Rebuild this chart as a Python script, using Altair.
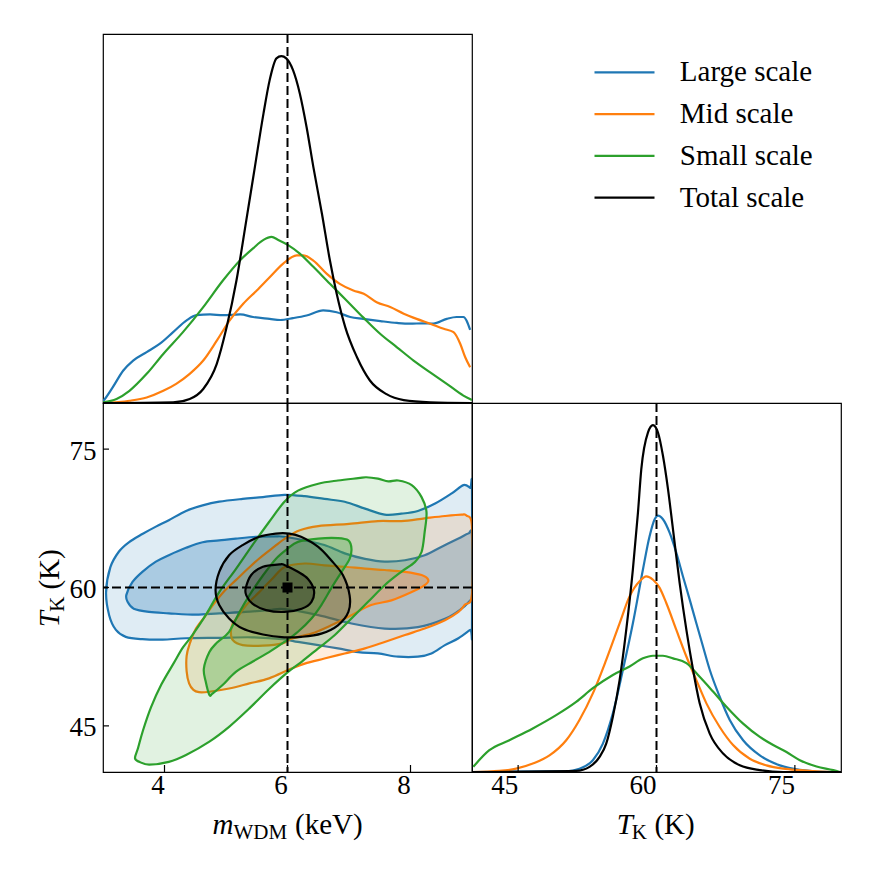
import altair as alt
import pandas as pd

SERIES = ["Large scale", "Mid scale", "Small scale", "Total scale"]
COLORS = ["#1f77b4", "#ff7f0e", "#2ca02c", "#000000"]
TRUTH_M = 6.0
TRUTH_T = 60.0
M_TICKS = [4, 6, 8]
T_TICKS = [45, 60, 75]
M_DOMAIN = [3.0, 9.0]
T_DOMAIN = [40.0, 80.0]

# ---- 1D marginal of m_WDM (keV), normalised height ----
LARGE_M_X = [3.0, 3.03, 3.16, 3.33, 3.49, 3.71, 3.92, 4.14, 4.36, 4.52, 4.74, 4.95, 5.23, 5.44, 5.71, 5.88, 6.09, 6.31, 6.58, 6.80, 7.02, 7.23, 7.51, 7.78, 7.99, 8.21, 8.37, 8.59, 8.75, 8.86, 8.97]
LARGE_M_Y = [0.005, 0.011, 0.043, 0.088, 0.115, 0.138, 0.160, 0.192, 0.224, 0.238, 0.240, 0.238, 0.240, 0.233, 0.228, 0.225, 0.230, 0.237, 0.251, 0.246, 0.233, 0.228, 0.222, 0.217, 0.215, 0.216, 0.215, 0.228, 0.233, 0.233, 0.198]
MID_M_X = [3.0, 3.43, 3.71, 3.98, 4.19, 4.41, 4.63, 4.85, 5.06, 5.28, 5.50, 5.71, 5.93, 6.15, 6.26, 6.42, 6.64, 6.85, 7.07, 7.24, 7.45, 7.67, 7.89, 8.10, 8.32, 8.54, 8.70, 8.81, 8.89, 8.97]
MID_M_Y = [0.0, 0.006, 0.015, 0.033, 0.052, 0.079, 0.115, 0.169, 0.224, 0.269, 0.305, 0.341, 0.378, 0.400, 0.400, 0.386, 0.350, 0.323, 0.305, 0.296, 0.273, 0.260, 0.242, 0.228, 0.215, 0.201, 0.192, 0.160, 0.124, 0.097]
SMALL_M_X = [3.0, 3.22, 3.43, 3.71, 3.98, 4.30, 4.63, 4.95, 5.23, 5.44, 5.61, 5.74, 5.85, 6.01, 6.20, 6.42, 6.69, 6.96, 7.23, 7.51, 7.78, 8.05, 8.32, 8.59, 8.86, 9.0]
SMALL_M_Y = [0.002, 0.011, 0.033, 0.079, 0.133, 0.192, 0.260, 0.332, 0.387, 0.419, 0.442, 0.450, 0.442, 0.428, 0.405, 0.369, 0.323, 0.278, 0.232, 0.187, 0.151, 0.115, 0.083, 0.052, 0.020, 0.008]
TOTAL_M_X = [3.0, 4.14, 4.41, 4.63, 4.85, 5.01, 5.17, 5.33, 5.47, 5.61, 5.71, 5.82, 5.90, 5.98, 6.09, 6.20, 6.31, 6.42, 6.56, 6.69, 6.80, 6.94, 7.13, 7.34, 7.61, 7.89, 8.32, 9.0]
TOTAL_M_Y = [0.0, 0.002, 0.011, 0.038, 0.106, 0.205, 0.332, 0.495, 0.640, 0.785, 0.875, 0.934, 0.940, 0.934, 0.902, 0.839, 0.748, 0.640, 0.513, 0.386, 0.296, 0.205, 0.124, 0.061, 0.024, 0.008, 0.002, 0.0]

# ---- 1D marginal of T_K (K), normalised height ----
LARGE_T_X = [40.0, 50.21, 51.65, 53.1, 54.19, 55.27, 56.36, 57.44, 58.53, 59.25, 59.8, 60.16, 60.7, 61.43, 62.15, 62.87, 63.6, 64.32, 65.04, 65.77, 66.85, 67.94, 69.39, 71.2, 73.37, 75.54, 79.16, 80.0]
LARGE_T_Y = [0.0, 0.002, 0.009, 0.032, 0.077, 0.159, 0.277, 0.403, 0.549, 0.639, 0.685, 0.695, 0.685, 0.648, 0.594, 0.530, 0.467, 0.403, 0.340, 0.277, 0.204, 0.141, 0.086, 0.045, 0.018, 0.006, 0.0, 0.0]
MID_T_X = [40.0, 42.97, 44.78, 46.59, 48.4, 50.21, 51.65, 53.1, 54.55, 56.0, 57.08, 58.17, 58.89, 59.62, 60.34, 61.06, 62.15, 63.24, 64.32, 65.41, 66.85, 68.3, 70.11, 71.92, 73.73, 75.54, 79.16, 80.0]
MID_T_Y = [0.0, 0.003, 0.009, 0.023, 0.045, 0.086, 0.141, 0.213, 0.304, 0.403, 0.476, 0.517, 0.530, 0.521, 0.499, 0.458, 0.385, 0.313, 0.249, 0.186, 0.122, 0.073, 0.036, 0.018, 0.009, 0.005, 0.0, 0.0]
SMALL_T_X = [40.14, 41.88, 44.05, 46.59, 49.12, 51.29, 53.1, 55.27, 57.08, 58.53, 59.62, 60.7, 61.79, 63.24, 64.68, 66.13, 67.58, 69.39, 71.2, 72.65, 74.09, 75.54, 77.35, 79.16, 79.88]
SMALL_T_Y = [0.014, 0.059, 0.086, 0.118, 0.154, 0.190, 0.227, 0.263, 0.286, 0.308, 0.315, 0.315, 0.308, 0.295, 0.258, 0.218, 0.177, 0.131, 0.095, 0.073, 0.054, 0.032, 0.015, 0.005, 0.0]
TOTAL_T_X = [40.0, 51.29, 52.74, 53.83, 54.55, 55.27, 56.0, 56.72, 57.44, 57.99, 58.35, 59.07, 59.62, 60.16, 60.70, 61.25, 61.79, 62.51, 63.24, 63.96, 64.68, 65.77, 67.22, 69.03, 71.2, 73.73, 80.0]
TOTAL_T_Y = [0.0, 0.003, 0.014, 0.041, 0.077, 0.150, 0.249, 0.385, 0.549, 0.703, 0.820, 0.920, 0.940, 0.920, 0.857, 0.766, 0.657, 0.512, 0.385, 0.277, 0.186, 0.104, 0.050, 0.018, 0.005, 0.0, 0.0]

# ---- 2D credible contours (m_WDM, T_K): 95% (outer) and 68% (inner) ----
LARGE_95_X = [3.05, 3.12, 3.26, 3.42, 3.64, 3.86, 4.07, 4.35, 4.62, 4.89, 5.27, 5.60, 5.95, 6.28, 6.60, 6.93, 7.26, 7.58, 7.85, 8.12, 8.40, 8.67, 8.86, 8.97, 9.00, 9.00, 8.97, 8.78, 8.56, 8.34, 8.12, 7.80, 7.47, 7.15, 6.82, 6.50, 6.17, 5.92, 5.43, 4.89, 4.35, 3.97, 3.64, 3.37, 3.21, 3.10]
LARGE_95_Y = [59.5, 62.2, 63.9, 64.9, 65.8, 66.6, 67.3, 68.3, 68.9, 69.3, 69.6, 69.8, 70.05, 69.9, 69.6, 69.3, 68.55, 67.9, 68.0, 68.3, 69.1, 70.2, 71.1, 70.8, 70.6, 55.5, 55.4, 54.5, 53.75, 52.85, 52.5, 52.5, 52.85, 53.0, 53.4, 53.75, 54.1, 54.4, 54.6, 54.55, 54.5, 54.35, 54.4, 54.65, 55.4, 57.0]
LARGE_68_X = [3.38, 3.48, 3.64, 3.86, 4.07, 4.35, 4.62, 4.89, 5.16, 5.49, 5.81, 5.95, 6.28, 6.60, 6.93, 7.26, 7.58, 7.91, 8.23, 8.50, 8.78, 8.94, 9.00, 9.00, 8.97, 8.83, 8.56, 8.12, 7.58, 7.04, 6.50, 5.95, 5.70, 5.32, 4.89, 4.51, 4.07, 3.75, 3.50, 3.40]
LARGE_68_Y = [59.2, 60.6, 61.7, 62.8, 63.5, 64.3, 64.9, 65.1, 65.3, 65.5, 65.55, 65.5, 65.1, 64.6, 63.7, 63.1, 62.8, 62.95, 63.5, 64.4, 65.3, 65.85, 65.6, 58.9, 58.6, 57.7, 56.6, 55.7, 55.55, 56.1, 57.0, 57.65, 57.55, 57.35, 57.2, 57.05, 57.2, 57.35, 57.7, 58.45]
MID_95_X = [4.56, 4.47, 4.40, 4.36, 4.36, 4.41, 4.50, 4.65, 4.80, 4.97, 5.16, 5.35, 5.55, 5.78, 5.98, 6.20, 6.50, 7.00, 7.47, 7.85, 8.23, 8.56, 8.83, 8.91, 9.00, 9.00, 8.88, 8.78, 8.56, 8.23, 7.91, 7.58, 7.26, 6.93, 6.60, 6.28, 6.03, 5.70, 5.38, 5.05, 4.73]
MID_95_Y = [48.65, 48.9, 49.6, 50.9, 52.6, 53.9, 55.4, 56.8, 58.2, 59.6, 60.8, 62.0, 63.2, 64.4, 65.4, 66.2, 66.65, 66.9, 67.2, 67.2, 67.5, 67.75, 67.9, 67.8, 66.6, 59.3, 58.1, 57.35, 56.45, 55.55, 54.85, 54.1, 53.4, 52.85, 52.3, 51.75, 51.1, 50.15, 49.6, 49.05, 48.7]
MID_68_X = [5.08, 5.11, 5.20, 5.33, 5.54, 5.76, 5.95, 6.28, 6.60, 6.93, 7.26, 7.58, 7.91, 8.18, 8.29, 8.23, 8.02, 7.69, 7.36, 7.04, 6.71, 6.39, 6.06, 5.92, 5.60, 5.27, 5.11]
MID_68_Y = [55.2, 56.1, 56.9, 58.1, 59.5, 61.0, 62.2, 62.6, 62.4, 62.25, 62.05, 61.9, 61.7, 61.35, 60.8, 60.25, 59.5, 58.6, 58.1, 57.0, 55.9, 55.0, 54.45, 53.95, 53.7, 53.75, 54.3]
SMALL_95_X = [3.52, 3.57, 3.65, 3.78, 3.95, 4.15, 4.30, 4.45, 4.67, 4.89, 5.16, 5.43, 5.70, 5.95, 6.17, 6.50, 6.82, 7.15, 7.28, 7.47, 7.64, 7.80, 8.02, 8.18, 8.26, 8.23, 8.18, 8.07, 7.85, 7.58, 7.31, 7.04, 6.77, 6.50, 6.23, 6.01, 5.70, 5.38, 5.05, 4.73, 4.35, 4.07, 3.75, 3.59]
SMALL_95_Y = [41.5, 42.6, 44.5, 47.0, 49.5, 51.8, 53.5, 54.8, 57.0, 59.5, 62.0, 64.6, 67.1, 69.3, 70.5, 71.25, 71.6, 71.85, 71.95, 71.8, 71.5, 71.6, 71.1, 69.8, 68.2, 66.0, 63.85, 62.75, 61.7, 60.25, 58.45, 56.65, 54.85, 53.4, 51.95, 50.85, 49.0, 46.9, 44.9, 43.3, 41.85, 41.1, 40.8, 41.1]
SMALL_68_X = [4.73, 4.67, 4.64, 4.73, 4.85, 5.05, 5.22, 5.38, 5.60, 5.81, 6.00, 6.17, 6.50, 6.82, 6.99, 7.04, 7.01, 6.88, 6.71, 6.55, 6.39, 6.17, 5.95, 5.70, 5.43, 5.16, 4.94, 4.78]
SMALL_68_Y = [48.35, 49.8, 51.2, 53.0, 54.0, 55.2, 57.35, 59.15, 61.3, 63.1, 64.2, 64.95, 65.3, 65.35, 65.1, 64.2, 63.1, 61.7, 59.9, 58.1, 56.65, 55.2, 54.1, 53.0, 51.95, 50.85, 49.4, 48.5]
TOTAL_95_X = [4.83, 4.89, 5.05, 5.27, 5.54, 5.81, 6.03, 6.22, 6.50, 6.71, 6.90, 7.01, 6.99, 6.82, 6.55, 6.22, 5.95, 5.60, 5.27, 5.05, 4.89]
TOTAL_95_Y = [59.7, 61.7, 63.5, 64.6, 65.5, 65.85, 65.85, 65.5, 64.4, 62.95, 61.35, 59.15, 57.35, 55.9, 55.0, 54.65, 54.6, 54.9, 55.55, 56.65, 58.1]
TOTAL_68_X = [5.32, 5.41, 5.60, 5.87, 5.95, 6.17, 6.33, 6.43, 6.39, 6.23, 5.95, 5.65, 5.43, 5.33]
TOTAL_68_Y = [59.9, 61.35, 62.25, 62.5, 62.45, 61.7, 60.95, 59.7, 58.45, 57.7, 57.35, 57.55, 58.25, 59.15]

# ---------------- styling ----------------
W = 369
H = 369
FONT = "Liberation Serif"
ALPHA_OUTER = 0.14
ALPHA_INNER = 0.28
LW = 2.2

MS = alt.Scale(domain=M_DOMAIN, nice=False, zero=False)
TS = alt.Scale(domain=T_DOMAIN, nice=False, zero=False)
PS = alt.Scale(domain=[0, 1], nice=False, zero=False)
CS = alt.Scale(domain=SERIES, range=COLORS)
DASH = [9, 4]

AX_M = alt.Axis(values=M_TICKS, format="d", title=None, labelOffset=-7, labelPadding=0,
                labelFont=FONT, labelFontSize=27, labelColor="black",
                ticks=False, domain=False, grid=False)
AX_T = alt.Axis(values=T_TICKS, format="d", title=None, labelPadding=7, labelOffset=2,
                labelFont=FONT, labelFontSize=27, labelColor="black",
                ticks=False, domain=False, grid=False)
AX_TR = alt.Axis(values=T_TICKS, format="d", title=None, labelOffset=-14, labelPadding=0,
                 labelFont=FONT, labelFontSize=27, labelColor="black",
                 ticks=False, domain=False, grid=False)


def marg_df(xs_list, ys_list):
    rows = []
    for s, xs, ys in zip(SERIES, xs_list, ys_list):
        for i, (x, y) in enumerate(zip(xs, ys)):
            rows.append({"series": s, "v": x, "p": y, "i": i})
    return pd.DataFrame(rows)


def poly_df(polys):
    rows = []
    for k, (xs, ys, a) in enumerate(polys):
        for i, (x, y) in enumerate(zip(xs, ys)):
            rows.append({"poly": k, "i": i, "x": x, "y": y, "a": a})
    return pd.DataFrame(rows)


def label(text, x, y, size, italic=False, angle=0):
    return alt.Chart(pd.DataFrame({"t": [text]})).mark_text(
        align="left", baseline="alphabetic", font=FONT, fontSize=size,
        fontStyle="italic" if italic else "normal", angle=angle, color="black"
    ).encode(x=alt.value(x), y=alt.value(y), text="t:N")


def vrule(value, scale, axis):
    return alt.Chart(pd.DataFrame({"v": [value]})).mark_rule(
        color="black", strokeWidth=2, strokeDash=DASH
    ).encode(x=alt.X("v:Q", scale=scale, axis=axis))


# ---------------- top-left: m_WDM marginal ----------------
m_df = marg_df([LARGE_M_X, MID_M_X, SMALL_M_X, TOTAL_M_X],
               [LARGE_M_Y, MID_M_Y, SMALL_M_Y, TOTAL_M_Y])
top_lines = alt.Chart(m_df).mark_line(strokeWidth=LW, interpolate="monotone", clip=True).encode(
    x=alt.X("v:Q", scale=MS, axis=None),
    y=alt.Y("p:Q", scale=PS, axis=None),
    color=alt.Color("series:N", scale=CS, legend=None),
    order="i:Q",
)
top = alt.layer(top_lines, vrule(TRUTH_M, MS, None)).properties(width=W, height=H)

# ---------------- legend cell ----------------
leg_df = pd.DataFrame({"series": SERIES})
LEG_Y = alt.Scale(type="point", domain=SERIES, range=[38.4, 163.7], padding=0)
leg_rules = alt.Chart(leg_df).mark_rule(strokeWidth=LW).encode(
    y=alt.Y("series:N", scale=LEG_Y, axis=None),
    x=alt.value(122.5), x2=alt.value(182.5),
    color=alt.Color("series:N", scale=CS, legend=None),
)
leg_text = alt.Chart(leg_df).mark_text(
    align="left", baseline="middle", font=FONT, fontSize=29, color="black"
).encode(y=alt.Y("series:N", scale=LEG_Y, axis=None), x=alt.value(207.8), text="series:N")
legend = alt.layer(leg_rules, leg_text).properties(
    width=W, height=H, view=alt.ViewBackground(stroke="transparent"))

# ---------------- bottom-left: 2D contours ----------------
CONTOURS = [
    [(LARGE_95_X, LARGE_95_Y, ALPHA_OUTER), (LARGE_68_X, LARGE_68_Y, ALPHA_INNER)],
    [(MID_95_X, MID_95_Y, ALPHA_OUTER), (MID_68_X, MID_68_Y, ALPHA_INNER)],
    [(SMALL_95_X, SMALL_95_Y, ALPHA_OUTER), (SMALL_68_X, SMALL_68_Y, ALPHA_INNER)],
    [(TOTAL_95_X, TOTAL_95_Y, ALPHA_OUTER), (TOTAL_68_X, TOTAL_68_Y, ALPHA_INNER)],
]

bl_layers = []
for col, polys in zip(COLORS, CONTOURS):
    df = poly_df(polys)
    fill = alt.Chart(df).mark_line(filled=True, interpolate="cardinal-closed", clip=True).encode(
        x=alt.X("x:Q", scale=MS, axis=AX_M),
        y=alt.Y("y:Q", scale=TS, axis=AX_T),
        detail="poly:N", order="i:Q",
        color=alt.value(col),
        fillOpacity=alt.FillOpacity("a:Q", scale=None),
    )
    line = alt.Chart(df).mark_line(interpolate="cardinal-closed", clip=True, strokeWidth=LW).encode(
        x=alt.X("x:Q", scale=MS, axis=AX_M),
        y=alt.Y("y:Q", scale=TS, axis=AX_T),
        detail="poly:N", order="i:Q",
        color=alt.value(col),
    )
    bl_layers += [fill, line]

bl_tick_x = alt.Chart(pd.DataFrame({"v": M_TICKS})).mark_rule(color="black", strokeWidth=1.2).encode(
    x=alt.X("v:Q", scale=MS, axis=AX_M), y=alt.value(H), y2=alt.value(H - 7))
bl_tick_y = alt.Chart(pd.DataFrame({"v": T_TICKS})).mark_rule(color="black", strokeWidth=1.2).encode(
    y=alt.Y("v:Q", scale=TS, axis=AX_T), x=alt.value(0), x2=alt.value(6))
h_truth = alt.Chart(pd.DataFrame({"v": [TRUTH_T]})).mark_rule(
    color="black", strokeWidth=2, strokeDash=DASH).encode(y=alt.Y("v:Q", scale=TS, axis=AX_T))
truth_pt = alt.Chart(pd.DataFrame({"m": [TRUTH_M], "t": [TRUTH_T]})).mark_square(
    size=100, color="black", opacity=1, filled=True).encode(
    x=alt.X("m:Q", scale=MS, axis=AX_M), y=alt.Y("t:Q", scale=TS, axis=AX_T))

bl_titles = [
    label("m", 109.5, H + 61.7, 29, italic=True),
    label("WDM", 130.5, H + 66.7, 21),
    label("(keV)", 192.0, H + 61.7, 29),
    label("T", -43.7, 224.3, 29, italic=True, angle=270),
    label("K", -38.7, 208.8, 21, angle=270),
    label("(K)", -43.7, 186.6, 29, angle=270),
]
bl = alt.layer(*bl_layers, bl_tick_x, bl_tick_y, vrule(TRUTH_M, MS, AX_M), h_truth, truth_pt,
               *bl_titles).properties(width=W, height=H)

# ---------------- bottom-right: T_K marginal ----------------
t_df = marg_df([LARGE_T_X, MID_T_X, SMALL_T_X, TOTAL_T_X],
               [LARGE_T_Y, MID_T_Y, SMALL_T_Y, TOTAL_T_Y])
br_lines = alt.Chart(t_df).mark_line(strokeWidth=LW, interpolate="monotone", clip=True).encode(
    x=alt.X("v:Q", scale=TS, axis=AX_TR),
    y=alt.Y("p:Q", scale=PS, axis=None),
    color=alt.Color("series:N", scale=CS, legend=None),
    order="i:Q",
)
br_tick = alt.Chart(pd.DataFrame({"v": T_TICKS})).mark_rule(color="black", strokeWidth=1.2).encode(
    x=alt.X("v:Q", scale=TS, axis=AX_TR), y=alt.value(H), y2=alt.value(H - 7))
br_titles = [
    label("T", 144.7, H + 61.7, 29, italic=True),
    label("K", 159.7, H + 66.7, 21),
    label("(K)", 182.4, H + 61.7, 29),
]
br = alt.layer(br_lines, br_tick, vrule(TRUTH_T, TS, AX_TR), *br_titles).properties(width=W, height=H)

# ---------------- assemble ----------------
chart = alt.concat(top, legend, bl, br, columns=2, spacing=0, bounds="flush").properties(
    padding={"left": 27, "top": 24, "right": 5, "bottom": 5}
).configure_view(stroke="black", strokeWidth=1.2).configure_axis(grid=False)

chart.save("out.html", embed_options={"renderer": "svg", "actions": False})
